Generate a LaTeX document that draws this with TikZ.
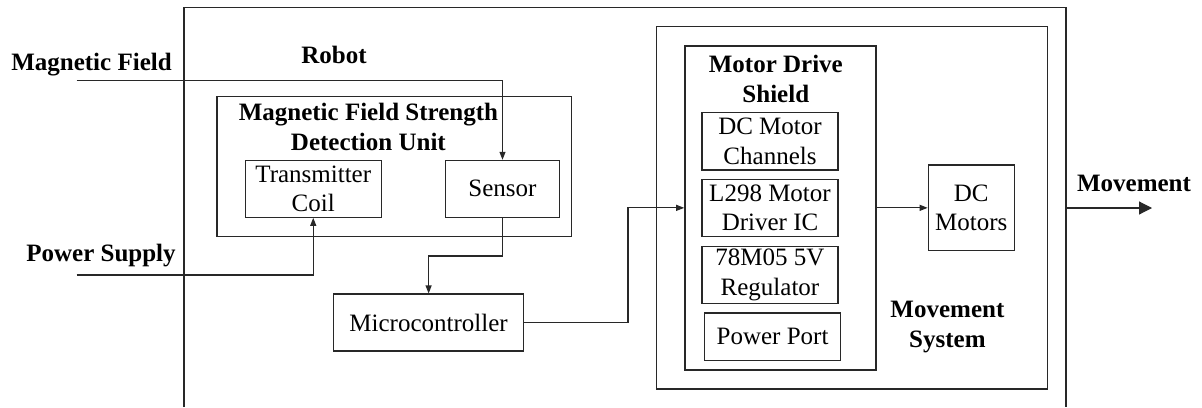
\documentclass[tikz,border=0pt]{standalone}
\usepackage{fontspec}
\setmainfont{Liberation Serif}
\usetikzlibrary{arrows.meta}
\definecolor{linec}{RGB}{40,40,40}
\tikzset{
  box/.style={draw=linec, line width=1.1pt, inner sep=0pt, align=center,
    font=\fontsize{25}{29.5}\selectfont},
  emptybox/.style={draw=linec, line width=1.1pt, inner sep=0pt},
  titletext/.style={inner sep=0pt, align=center, font=\fontsize{25}{30}\selectfont\bfseries},
  conn/.style={draw=linec, line width=1.1pt, -{Triangle[length=8pt,width=6pt]}},
  bigconn/.style={draw=linec, line width=1.1pt, -{Triangle[length=13pt,width=13pt]}}
}
\begin{document}
\begin{tikzpicture}[x=1pt,y=-1pt]
\useasboundingbox (0,0) rectangle (1202,407);
\fill[white] (0,0) rectangle (1202,407);
% Robot outer frame (cut off at the bottom)
\draw[draw=linec, line width=1.1pt] (184,407) -- (184,7.5) -- (1066,7.5) -- (1066,407);
\node[titletext] (robotlbl) at (334,55) {Robot};
% Detection unit
\node[emptybox, minimum width=354.4pt, minimum height=140pt] (detunit) at (394.2,166.7) {};
\node[titletext] (dettitle) at (368.4,126.7) {Magnetic Field Strength\\Detection Unit};
\node[box, minimum width=135.9pt, minimum height=57pt] (coil) at (313.25,188.8) {Transmitter\\Coil};
\node[box, minimum width=114pt, minimum height=57pt] (sensor) at (502.5,188.8) {Sensor};
\node[box, minimum width=189.8pt, minimum height=57pt] (micro) at (428.6,322.5) {Microcontroller};
% Movement system
\node[emptybox, minimum width=390.4pt, minimum height=362.3pt] (movsys) at (852,207.85) {};
\node[draw=linec, line width=2pt, inner sep=0pt, minimum width=190.4pt, minimum height=324.3pt] (shield) at (780.4,207.85) {};
\node[titletext] (shieldtitle) at (775.8,79.3) {Motor Drive\\Shield};
\node[box, minimum width=136pt, minimum height=57.3pt] (channels) at (770,141.35) {DC Motor\\Channels};
\node[box, minimum width=136pt, minimum height=57.4pt] (driver) at (770,208) {L298 Motor\\Driver IC};
\node[box, minimum width=136pt, minimum height=57pt] (regulator) at (770,274.8) {78M05 5V\\Regulator};
\node[box, minimum width=136.3pt, minimum height=47.3pt] (port) at (772.55,336.65) {Power Port};
\node[box, minimum width=86pt, minimum height=85.7pt] (motors) at (971.2,207.85) {DC\\Motors};
\node[titletext] (movsyslbl) at (947.4,327) {Movement\\System};
% External labels
\node[titletext] (mflbl) at (91.5,65) {Magnetic Field};
\node[titletext] (pslbl) at (101,256) {Power Supply};
\node[titletext] (movlbl) at (1134,183.3) {Movement};
% Connector helper coordinates
\coordinate (mfin) at (76.5,80.7);
\coordinate (psin) at (76.5,275);
\coordinate (jone) at (0,256);
\coordinate (jtwo) at (628,0);
\coordinate (movstart) at (1066,208);
\coordinate (movend) at (1152,208);
% Connectors
\draw[conn] (mfin) -| (sensor.north);
\draw[conn] (psin) -| (coil.south);
\draw[conn] (sensor.south) -- (sensor.south |- jone) -| (micro.north);
\draw[conn] (micro.east) -- (micro.east -| jtwo) |- (shield.west);
\draw[conn] (shield.east) -- (motors.west);
\draw[bigconn] (movstart) -- (movend);
\end{tikzpicture}
\end{document}
